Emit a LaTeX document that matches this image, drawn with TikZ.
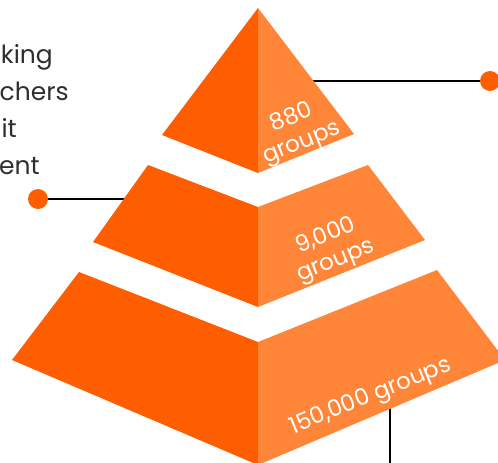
\documentclass[tikz,border=0pt]{standalone}
\usepackage{fontspec}
\setmainfont{Poppins}
\usetikzlibrary{positioning}

\definecolor{pyrdark}{HTML}{FF5E00}
\definecolor{pyrlight}{HTML}{FF8638}
\definecolor{txtgray}{HTML}{2E2E2E}

\begin{document}
\begin{tikzpicture}[x=1pt, y=-1pt,
  leftface/.style={fill=pyrdark},
  rightface/.style={fill=pyrlight},
  tierlabel/.style={text=white, font=\fontsize{23}{27}\selectfont, align=center, rotate=22, inner sep=0pt},
  pin/.style={circle, fill=pyrdark, minimum size=20pt, inner sep=0pt},
  lead/.style={line width=2.2pt, black},
  note/.style={text=txtgray, font=\fontsize{25}{30}\selectfont, inner sep=0pt, anchor=base east}
]
  \useasboundingbox (0,0) rectangle (498,463);
  \clip (0,0) rectangle (498,463);

  % leader lines first, the tiers cover their inner ends
  \node[pin] (pinTop) at (490,81) {};
  \node[pin] (pinMid) at (38,199) {};
  \coordinate (tipTop) at (300,81);
  \coordinate (tipMid) at (140,199);
  \coordinate (tipBase) at (390,400);
  \coordinate (footBase) at (390,470);
  \draw[lead] (tipTop) -- (pinTop);
  \draw[lead] (pinMid) -- (tipMid);
  \draw[lead] (tipBase) -- (footBase);

  % top tier
  \fill[leftface]  (258,8) -- (162,135) -- (258,173) -- cycle;
  \fill[rightface] (258,8) -- (354,134) -- (258,173) -- cycle;
  % middle tier
  \fill[leftface]  (148,165) -- (258,207) -- (258,307) -- (93,242) -- cycle;
  \fill[rightface] (258,207) -- (368,165) -- (425,240) -- (258,307) -- cycle;
  % base tier
  \fill[leftface]  (79,272) -- (258,342) -- (258,465) -- (12,360) -- cycle;
  \fill[rightface] (258,342) -- (437,270) -- (505,360) -- (258,465) -- cycle;

  \node[tierlabel] (lblTop)  at (297,131) {880\\groups};
  \node[tierlabel] (lblMid)  at (331,249) {9,000\\groups};
  \node[tierlabel] (lblBase) at (371,397) {150,000 groups};

  % text block on the left, cut by the page edge
  \node[note] (noteA) at (53,63)  {king};
  \node[note] (noteB) at (69,100) {achers};
  \node[note] (noteC) at (17,137) {it};
  \node[note] (noteD) at (40,174) {ent};
\end{tikzpicture}
\end{document}
